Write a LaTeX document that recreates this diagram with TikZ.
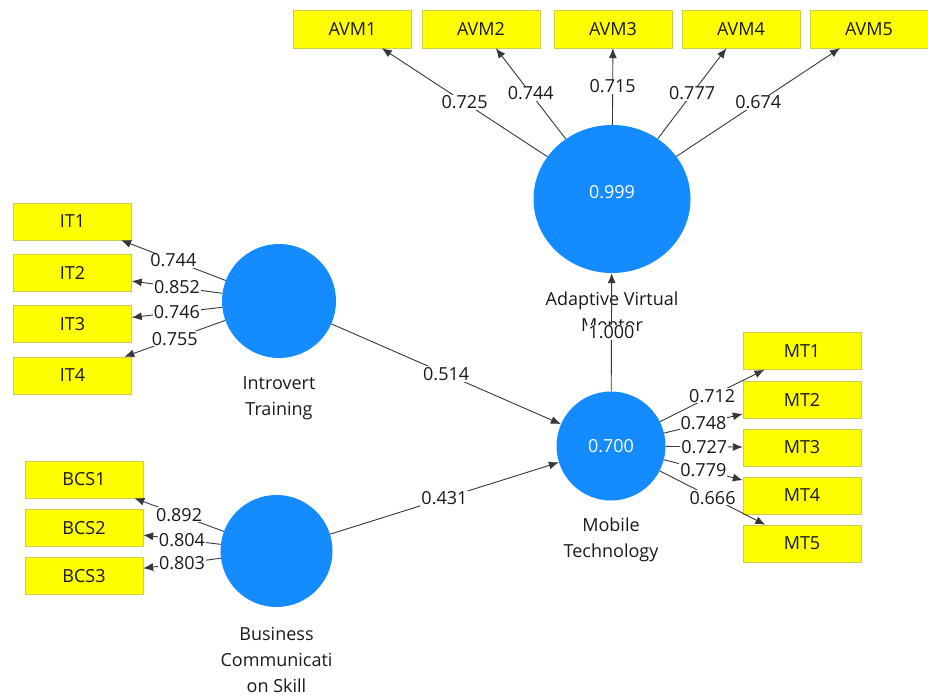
\documentclass[tikz,border=0pt]{standalone}
\usepackage{fontspec}
\setmainfont{Open Sans}
\usetikzlibrary{arrows.meta, shapes.geometric, positioning}

\definecolor{plsblue}{RGB}{20,140,255}
\definecolor{plsyellow}{RGB}{255,255,0}
\definecolor{plsedge}{RGB}{205,205,70}
\definecolor{plsline}{RGB}{55,55,55}
\definecolor{plstext}{RGB}{25,25,25}

\begin{document}
\begin{tikzpicture}[x=1pt, y=-1pt]
  \tikzset{
    ind/.style={draw=plsedge, fill=plsyellow, text=plstext, minimum width=118pt, minimum height=37pt, inner sep=0pt, font=\fontsize{18}{22}\selectfont},
    lv/.style={circle, fill=plsblue, inner sep=0pt, text=white, font=\fontsize{18}{22}\selectfont},
    lvname/.style={align=center, text=plstext, font=\fontsize{18}{26}\selectfont},
    load/.style={draw=plsline, line width=0.9pt, -{Latex[length=10pt,width=8pt]}},
    coef/.style={midway, fill=white, text=plstext, inner sep=1pt, font=\fontsize{18}{20}\selectfont}
  }
  \useasboundingbox (0,0) rectangle (928,695);

  % latent variables
  \node[lv, ellipse, minimum width=157pt, minimum height=148pt] (avm) at (612,199) {\raisebox{14pt}{0.999}};
  \node[lv, minimum size=114pt] (it) at (279,301) {};
  \node[lv, minimum size=112pt] (bcs) at (276.5,551) {};
  \node[lv, minimum size=109pt] (mt) at (611,446) {0.700};

  \node[lvname] (avmname) at (612,311.5) {Adaptive Virtual\\Mentor};
  \node[lvname] (itname) at (279,398) {Introvert\\Training};
  \node[lvname] (bcsname) at (276.5,660) {Business\\Communicati\\on Skill};
  \node[lvname] (mtname) at (611,539.5) {Mobile\\Technology};

  % indicators
  \node[ind, minimum height=38pt] (avm1) at (352.5,29) {AVM1};
  \node[ind, minimum height=38pt] (avm2) at (481,29) {AVM2};
  \node[ind, minimum height=38pt] (avm3) at (613,29) {AVM3};
  \node[ind, minimum height=38pt] (avm4) at (741,29) {AVM4};
  \node[ind, minimum height=38pt] (avm5) at (869,29) {AVM5};

  \node[ind] (it1) at (72.5,221.5) {IT1};
  \node[ind] (it2) at (72.5,273) {IT2};
  \node[ind] (it3) at (72.5,324) {IT3};
  \node[ind] (it4) at (72.5,375.5) {IT4};

  \node[ind] (bcs1) at (84,479.5) {BCS1};
  \node[ind] (bcs2) at (84,528) {BCS2};
  \node[ind] (bcs3) at (84,576) {BCS3};

  \node[ind] (mt1) at (802,351) {MT1};
  \node[ind] (mt2) at (802,399.5) {MT2};
  \node[ind] (mt3) at (802,447.5) {MT3};
  \node[ind] (mt4) at (802,495.5) {MT4};
  \node[ind] (mt5) at (802,543.5) {MT5};

  % outer loadings
  \draw[load] (avm) -- node[coef]{0.725} (avm1);
  \draw[load] (avm) -- node[coef]{0.744} (avm2);
  \draw[load] (avm) -- node[coef]{0.715} (avm3);
  \draw[load] (avm) -- node[coef]{0.777} (avm4);
  \draw[load] (avm) -- node[coef]{0.674} (avm5);

  \draw[load] (it) -- node[coef]{0.744} (it1);
  \draw[load] (it) -- node[coef]{0.852} (it2);
  \draw[load] (it) -- node[coef]{0.746} (it3);
  \draw[load] (it) -- node[coef]{0.755} (it4);

  \draw[load] (bcs) -- node[coef]{0.892} (bcs1);
  \draw[load] (bcs) -- node[coef]{0.804} (bcs2);
  \draw[load] (bcs) -- node[coef]{0.803} (bcs3);

  \draw[load] (mt) -- node[coef]{0.712} (mt1);
  \draw[load] (mt) -- node[coef]{0.748} (mt2);
  \draw[load] (mt) -- node[coef]{0.727} (mt3);
  \draw[load] (mt) -- node[coef]{0.779} (mt4);
  \draw[load] (mt) -- node[coef]{0.666} (mt5);

  % path coefficients
  \draw[load] (it) -- node[coef]{0.514} (mt);
  \draw[load] (bcs) -- node[coef]{0.431} (mt);
  \draw[load] (mt) -- node[coef]{1.000} (avm);
\end{tikzpicture}
\end{document}
